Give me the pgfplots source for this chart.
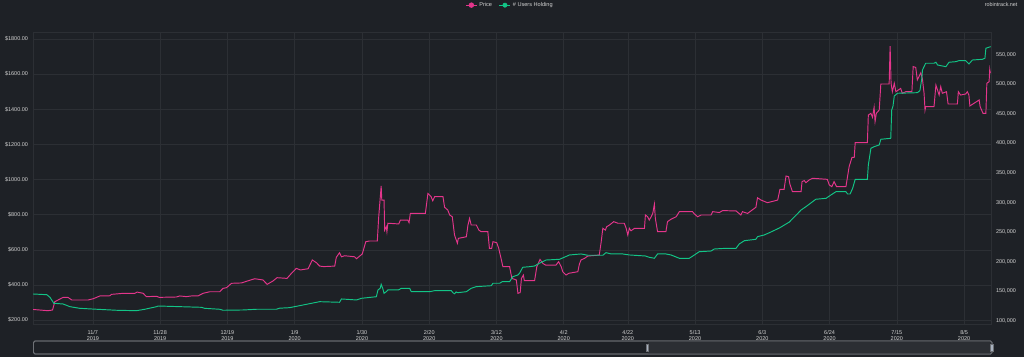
\documentclass[border=0pt]{standalone}
\usepackage{pgfplots}
\pgfplotsset{compat=1.18}
\usepackage{pgfplotstable}
\usepackage{fontspec}
\setmainfont{Liberation Sans}
\definecolor{bg}{HTML}{1E2126}
\definecolor{gridc}{HTML}{2C2F34}
\definecolor{txt}{HTML}{D2D2D2}
\definecolor{pinkc}{HTML}{E3358B}
\definecolor{greenc}{HTML}{12C486}
\definecolor{navb}{HTML}{6E7176}
\definecolor{navsel}{HTML}{2B2E33}
\definecolor{handle}{HTML}{A8B2C0}

\pgfplotstableread{
d p
-18.7 260
-14.0 253
-12.6 257
-11.9 304
-9.3 329
-7.8 329
-6.6 314
-1.5 314
0.1 321
2.2 337
5.3 338
5.8 346
9.5 352
13.1 352
13.8 359
15.7 352
16.7 333
19.9 335
20.7 329
26.1 331
27.1 337
29.2 333
30.8 337
32.8 337
34.4 352
36.5 361
39.6 361
40.6 380
41.7 384
43.3 409
46.4 411
47.9 420
50.5 435
53.1 428
54.4 403
56.2 422
57.5 441
60.6 437
62.0 466
63.5 494
64.8 485
67.2 492
68.5 542
69.8 526
70.8 507
72.1 504
75.5 507
76.0 557
77.0 583
77.6 560
78.6 566
81.7 560
82.3 549
83.3 564
84.1 576
85.2 646
86.4 650
88.8 650
89.2 779
90.0 963
90.2 883
90.9 883
91.1 712
91.6 731
91.8 703
92.1 751
95.5 747
96.0 769
98.3 769
98.7 754
99.1 807
103.8 807
104.6 921
105.6 902
106.1 879
106.7 902
109.3 902
109.8 842
110.8 826
111.4 798
112.2 788
112.9 684
113.8 637
114.1 665
116.6 674
117.1 741
117.6 779
118.1 741
119.7 741
120.5 712
121.2 703
123.3 703
123.8 608
124.5 608
124.9 646
126.1 640
126.7 608
127.5 545
128.0 504
130.1 504
130.8 437
132.2 428
132.7 352
133.4 356
133.8 437
134.4 456
134.7 424
137.9 424
138.6 504
139.6 545
140.5 522
141.3 513
144.6 513
145.4 532
146.2 504
146.7 475
147.7 456
148.6 466
151.4 475
151.9 519
152.4 542
153.5 551
154.5 564
158.1 570
158.7 646
159.2 722
160.0 712
160.4 731
161.3 741
162.6 760
163.9 751
165.9 751
166.5 722
167.0 684
167.5 722
168.0 708
169.1 722
172.2 722
172.5 798
173.2 788
173.7 769
174.3 788
174.8 807
175.3 860
175.6 779
176.3 703
178.9 703
179.4 760
180.5 774
182.1 788
183.1 817
187.2 817
187.8 804
188.8 788
189.9 798
193.0 798
193.5 817
195.6 812
196.6 823
200.8 821
202.3 798
202.8 817
204.4 807
207.0 842
207.5 896
208.6 883
210.6 868
213.8 883
214.5 944
215.8 944
216.4 1020
217.2 1016
217.6 974
218.4 931
221.1 931
221.4 988
222.1 994
222.6 982
223.6 997
224.7 1007
229.3 1001
229.9 969
230.7 959
231.4 988
232.2 959
235.1 959
235.6 1016
236.1 1073
237.0 1126
237.7 1126
238.0 1210
241.8 1210
242.1 1367
242.9 1377
243.4 1354
243.9 1411
244.2 1330
244.6 1377
245.5 1396
246.0 1544
248.6 1544
248.9 1760
249.2 1548
249.6 1500
250.2 1548
250.7 1500
252.2 1519
252.7 1491
253.8 1500
255.7 1500
256.1 1643
256.9 1638
257.4 1567
258.5 1608
259.0 1571
259.5 1491
259.8 1396
260.0 1415
262.6 1415
263.2 1538
264.2 1481
264.7 1529
265.2 1491
266.5 1500
267.0 1430
269.9 1430
270.2 1500
270.9 1481
272.5 1487
273.0 1500
273.5 1481
273.8 1419
276.7 1453
277.0 1415
277.9 1377
278.8 1377
279.1 1548
279.8 1557
280.0 1627
280.2 1605
}\pricetable

\pgfplotstableread{
d u
-18.7 145600
-14.4 144400
-13.4 140000
-12.2 129900
-9.3 128700
-7.2 124200
-4.1 121400
1.2 119800
7.4 118100
13.6 117400
16.2 119800
19.9 124200
20.4 125300
27.1 124200
33.9 123100
34.9 121400
39.6 119800
40.6 118100
46.9 118600
51.1 119800
57.3 119800
58.3 121600
61.4 122500
70.8 132600
77.0 131600
77.6 137200
82.3 135500
83.8 138300
88.5 141000
89.0 152400
89.7 155200
90.0 162000
90.5 155000
90.9 146800
91.6 149500
92.1 152400
95.4 152400
96.3 155200
98.9 155200
99.4 149500
105.1 149500
106.7 151200
111.9 151200
112.4 147800
112.9 146000
113.4 149000
113.9 147800
116.6 149500
118.1 155200
119.7 158000
124.4 159600
124.9 163700
127.0 163700
127.8 166400
130.1 166400
131.1 174800
132.7 177700
133.2 180600
134.2 190700
136.3 191700
137.9 192900
139.4 197500
141.5 203000
145.7 204200
148.8 211500
152.4 213200
154.5 211000
159.2 211000
160.2 215400
161.8 213200
165.4 213200
167.5 211500
172.5 209800
173.7 207600
175.3 205900
176.3 213200
178.9 213200
180.5 211500
183.1 205900
186.2 205900
187.8 211500
189.3 217000
193.0 218200
194.0 221600
197.7 222800
200.8 222800
201.8 230100
203.4 235600
207.0 238000
207.5 242400
209.6 245300
211.2 249100
214.3 257000
217.4 267000
219.6 279000
221.1 287500
222.6 293000
224.7 301500
225.7 305600
228.9 307200
230.4 312800
232.0 318400
235.1 318400
235.6 314500
236.4 314500
237.2 324100
238.0 339300
241.8 339300
242.1 363500
242.9 391700
243.9 394400
245.5 397300
246.0 406900
249.1 408600
249.4 456400
249.8 463100
250.2 480000
251.2 484600
257.4 485600
258.2 489000
258.8 509900
259.0 524000
260.0 535300
262.6 535300
263.2 537000
263.7 532400
266.3 529500
267.3 537000
269.4 538000
270.4 539700
272.5 539700
273.5 534100
274.6 540800
277.7 542000
278.5 543700
278.8 560600
280.3 563300
}\userstable

\begin{document}
\begin{tikzpicture}
\fill[bg] (0,0) rectangle (1024pt,357pt);
\begin{axis}[
  at={(33pt,33pt)}, anchor=south west,
  width=958pt, height=292pt, scale only axis,
  xmin=-18.7, xmax=280.4, ymin=177.2, ymax=1840,
  axis line style={draw=gridc},
  grid=major, grid style={draw=gridc, line width=0.5pt},
  major tick length=0pt,
  tick label style={font=\fontsize{5.5}{6}\selectfont, text=txt},
  xtick={0,21,42,63,84,105,126,147,167,188,209,230,251,272},
  xticklabels={{11/7\\2019},{11/28\\2019},{12/19\\2019},{1/9\\2020},{1/30\\2020},{2/20\\2020},{3/12\\2020},{4/2\\2020},{4/22\\2020},{5/13\\2020},{6/3\\2020},{6/24\\2020},{7/15\\2020},{8/5\\2020}},
  xticklabel style={align=center, yshift=-2.5pt},
  ytick={200,400,...,1800},
  yticklabels={\$200.00,\$400.00,\$600.00,\$800.00,\$1000.00,\$1200.00,\$1400.00,\$1600.00,\$1800.00},
  yticklabel style={xshift=-1.5pt},
  legend columns=2,
  legend style={at={(0.498,1.092)}, anchor=center, draw=none, fill=none,
    text=txt, font=\fontsize{5.6}{6}\selectfont,
    /tikz/every even column/.append style={column sep=5pt}},
  legend image code/.code={\draw[#1, line width=0.8pt] (0pt,0pt) -- (11pt,0pt);
    \fill[#1] (5.5pt,0pt) circle (2.2pt);},
]
\addplot[pinkc, line width=0.95pt] table[x=d, y=p] {\pricetable};
\addlegendentry{Price}
\addlegendimage{greenc}
\addlegendentry{\# Users Holding}
\end{axis}
\begin{axis}[
  at={(33pt,33pt)}, anchor=south west,
  width=958pt, height=292pt, scale only axis,
  xmin=-18.7, xmax=280.4, ymin=94900, ymax=588100,
  axis x line=none, axis y line*=right,
  axis line style={draw=gridc},
  major tick length=0pt,
  tick label style={font=\fontsize{5.5}{6}\selectfont, text=txt},
  ytick={100000,150000,...,550000},
  yticklabels={{100,000},{150,000},{200,000},{250,000},{300,000},{350,000},{400,000},{450,000},{500,000},{550,000}},
  yticklabel style={xshift=1.5pt},
  scaled y ticks=false,
]
\addplot[greenc, line width=0.95pt] table[x=d, y=u] {\userstable};
\end{axis}
\node[text=txt, font=\fontsize{5.4}{6}\selectfont, anchor=east] at (1021pt,352pt) {robintrack.net};
\draw[navb, fill=bg, rounded corners=1.5pt, line width=0.8pt] (33.5pt,3pt) rectangle (992pt,16pt);
\fill[navsel] (648pt,3.4pt) rectangle (991.6pt,15.6pt);
\draw[navb, line width=0.8pt, rounded corners=1.5pt] (33.5pt,3pt) rectangle (992pt,16pt);
\filldraw[fill=handle, draw=navb, line width=0.4pt] (645.8pt,6pt) rectangle (648.6pt,13pt);
\filldraw[fill=handle, draw=navb, line width=0.4pt] (990.6pt,6pt) rectangle (993.4pt,13pt);
\pgfresetboundingbox
\path (0,0) rectangle (1024pt,357pt);
\end{tikzpicture}
\end{document}
